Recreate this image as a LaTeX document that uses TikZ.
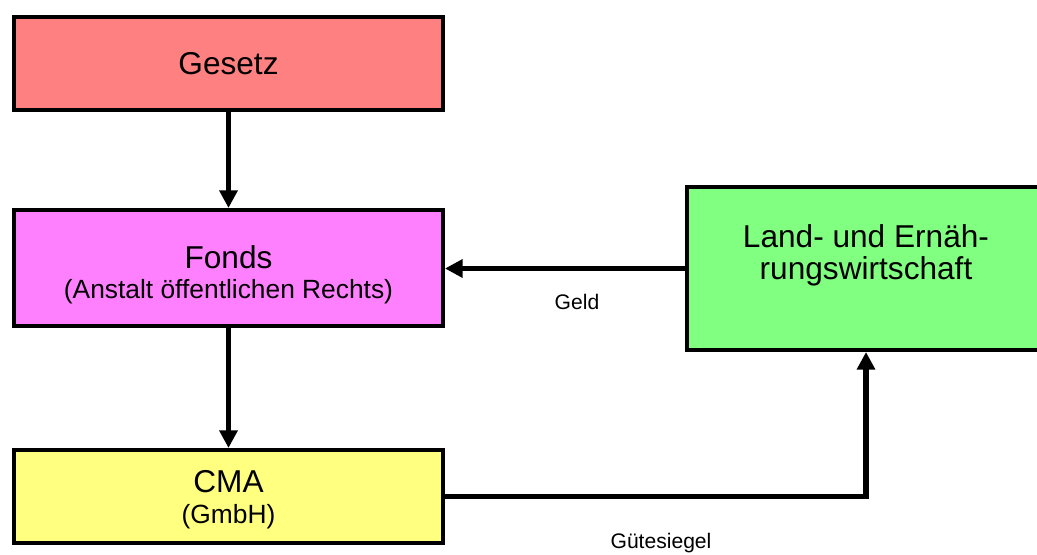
\documentclass[tikz,border=0pt]{standalone}
\usepackage{fontspec}
\setmainfont{Liberation Sans}
\usepackage{tikz}
\usetikzlibrary{arrows.meta, positioning}
\usepackage{xcolor}
\definecolor{gesetzrot}{HTML}{FF8080}
\definecolor{fondslila}{HTML}{FF80FF}
\definecolor{cmagelb}{HTML}{FFFF80}
\definecolor{landgruen}{HTML}{80FF80}

\begin{document}
\begin{tikzpicture}[x=0.02cm, y=-0.02cm,
        kasten/.style={draw=black, line width=2.3pt, minimum width=8.58cm, align=center, inner sep=0pt},
        pfeil/.style={line width=3pt, -{Triangle[length=10pt, width=10pt]}},
        gross/.style={font=\fontsize{18}{18.7}\selectfont},
        klein/.style={font=\fontsize{12}{14}\selectfont}]
            \useasboundingbox (0,0) rectangle (1037,554);
            \node[kasten, gross, fill=gesetzrot, minimum height=1.86cm] (gesetz) at (228.5,63.5) {Gesetz};
            \node[kasten, gross, fill=fondslila, minimum height=2.32cm] (fonds) at (228.5,268)
                {\rule{0pt}{21pt}Fonds\\[-1.5pt]{\fontsize{15}{15}\selectfont(Anstalt öffentlichen Rechts)}};
            \node[kasten, gross, fill=cmagelb, minimum height=1.86cm] (cma) at (228.5,496.5)
                {\rule{0pt}{16.5pt}CMA\\[-1pt]{\fontsize{15}{15}\selectfont(GmbH)}};
            \node[kasten, gross, fill=landgruen, minimum width=7.16cm, minimum height=3.26cm] (land) at (866,268.5)
                {Land- und Ernäh-\\rungswirtschaft\\ \mbox{}};
            \node[klein] (geld) at (577,302) {Geld};
            \node[klein] (siegel) at (661,543) {Gütesiegel};
            \draw[pfeil] (gesetz) -- (fonds);
            \draw[pfeil] (fonds) -- (cma);
            \draw[pfeil] (land.west) -- (land.west -| fonds.east);
            \draw[pfeil] (cma.east) -| (land.south);
\end{tikzpicture}
\end{document}
